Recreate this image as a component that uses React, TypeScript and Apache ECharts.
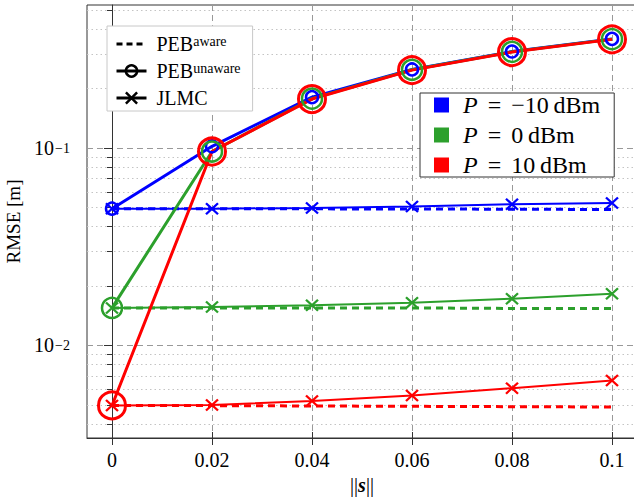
import React, { useEffect, useRef } from 'react';
import * as echarts from 'echarts';

// ---- data ----
const xValues = [0, 0.02, 0.04, 0.06, 0.08, 0.1];
const xTickValues = [0, 0.02, 0.04, 0.06, 0.08, 0.1];
const yMajorTicks = [0.01, 0.1];
const yMinorTicks = [
  0.004, 0.005, 0.006, 0.007, 0.008, 0.009,
  0.02, 0.03, 0.04, 0.05, 0.06, 0.07, 0.08, 0.09,
  0.2, 0.3, 0.4, 0.5,
];

const blueAware = [0.0493, 0.0493, 0.0492, 0.0491, 0.049, 0.0488];
const greenAware = [0.0155, 0.0155, 0.0155, 0.0155, 0.0154, 0.0154];
const redAware = [0.00497, 0.00496, 0.00494, 0.00492, 0.0049, 0.00488];

const blueUnaware = [0.0493, 0.102, 0.181, 0.25, 0.308, 0.357];
const greenUnaware = [0.0155, 0.096, 0.178, 0.249, 0.307, 0.356];
const redUnaware = [0.00497, 0.096, 0.177, 0.248, 0.306, 0.355];

const blueJLMC = [0.0493, 0.0493, 0.0497, 0.0506, 0.0519, 0.0526];
const greenJLMC = [0.0155, 0.01565, 0.016, 0.01644, 0.01725, 0.01828];
const redJLMC = [0.00497, 0.005, 0.00523, 0.00558, 0.00608, 0.00665];

const powerKeys = ['Pm10', 'P0', 'P10'];
const powerLabels = ['−10', '0', '10'];
const methodKeys = ['PEBaware', 'PEBunaware', 'JLMC'];

const colors = ['#0000ff', '#2ca02c', '#ff0000'];
const circleSizes = [12, 20, 27];
const circleBorders = [2.5, 2.5, 3];

const FONT = 'Liberation Serif';
const CROSS = 'path://M0,0L10,10M10,0L0,10';

const zip = (ys: number[]) => xValues.map((x, i) => [x, ys[i]]);

export default function App() {
  const ref = useRef<HTMLDivElement>(null);
  useEffect(() => {
    if (!ref.current) return;
    const chart = echarts.init(ref.current, undefined, { renderer: 'svg' });

    const groups = [
      [blueAware, blueUnaware, blueJLMC],
      [greenAware, greenUnaware, greenJLMC],
      [redAware, redUnaware, redJLMC],
    ];
    const series: any[] = [];
    groups.forEach((g, ci) => {
      const c = colors[ci];
      series.push({
        type: 'line', name: 'aware-' + ci, data: zip(g[0]), symbol: 'none',
        lineStyle: { color: c, width: 3, type: [7, 5] }, silent: true,
      });
      series.push({
        type: 'line', name: 'unaware-' + ci, data: zip(g[1]), symbol: 'circle',
        symbolSize: circleSizes[ci],
        itemStyle: { color: 'rgba(0,0,0,0)', borderColor: c, borderWidth: circleBorders[ci] },
        lineStyle: { color: c, width: 3 }, silent: true,
      });
      series.push({
        type: 'line', name: 'jlmc-' + ci, data: zip(g[2]), symbol: CROSS,
        symbolSize: [12, 11],
        itemStyle: { color: 'rgba(0,0,0,0)', borderColor: c, borderWidth: 2.2 },
        lineStyle: { color: c, width: 2 }, silent: true,
      });
    });
    // legend-only series
    series.push({
      type: 'line', name: methodKeys[0], data: [], symbol: 'circle',
      itemStyle: { color: 'rgba(0,0,0,0)', borderColor: 'rgba(0,0,0,0)', borderWidth: 0 },
      lineStyle: { color: '#000', width: 3, type: [6, 4] },
    });
    series.push({
      type: 'line', name: methodKeys[1], data: [], symbol: 'circle',
      itemStyle: { color: 'rgba(0,0,0,0)', borderColor: '#000', borderWidth: 2.5 },
      lineStyle: { color: '#000', width: 3 },
    });
    series.push({
      type: 'line', name: methodKeys[2], data: [], symbol: CROSS,
      itemStyle: { color: 'rgba(0,0,0,0)', borderColor: '#000', borderWidth: 3 },
      lineStyle: { color: '#000', width: 3 },
    });
    powerKeys.forEach((k, i) => {
      series.push({
        type: 'line', name: k, data: [], symbol: 'none',
        itemStyle: { color: colors[i] }, lineStyle: { color: colors[i] },
      });
    });

    const option: any = {
      animation: false,
      backgroundColor: '#fff',
      grid: {
        left: 87, top: 5, width: 550, height: 433,
        outerBoundsMode: 'none', containLabel: false,
        show: true, borderColor: '#333', borderWidth: 1, backgroundColor: 'transparent',
      },
      xAxis: [
        {
          type: 'value', min: -0.005, max: 0.105,
          axisLine: { show: true, lineStyle: { color: '#333', width: 1 } },
          axisTick: { show: true, customValues: xTickValues, length: 7, lineStyle: { color: '#333' } },
          axisLabel: {
            customValues: xTickValues, margin: 12, color: '#000', fontSize: 20, fontFamily: FONT,
            formatter: (v: number) => String(+v.toFixed(2)),
          },
          splitLine: { show: true, lineStyle: { color: '#999', width: 1, type: [6, 4] } },
          name: '{n|||}{s|s}{n|||}',
          nameLocation: 'middle', nameGap: 33,
          nameTextStyle: {
            color: '#000',
            rich: {
              n: { fontSize: 20, fontFamily: FONT, color: '#000' },
              s: { fontSize: 20, fontFamily: FONT, fontWeight: 'bold', fontStyle: 'italic', color: '#000' },
            },
          },
        },
        {
          type: 'value', min: -0.005, max: 0.105, position: 'bottom',
          axisLine: { show: false },
          axisTick: { show: true, inside: true, customValues: xTickValues, length: 6, lineStyle: { color: '#333' } },
          axisLabel: { show: false },
          splitLine: { show: false },
        },
      ],
      yAxis: [
        {
          type: 'log', logBase: 10, min: 0.0034, max: 0.53,
          axisLine: { show: true, lineStyle: { color: '#333', width: 1 } },
          axisTick: { show: true, customValues: yMajorTicks, length: 8, lineStyle: { color: '#333' } },
          axisLabel: {
            customValues: yMajorTicks, margin: 17,
            formatter: (v: number) => '{b|10}{s|−' + Math.round(-Math.log10(v)) + '}',
            rich: {
              b: { fontSize: 20, fontFamily: FONT, color: '#000', lineHeight: 20, padding: [6, 0, 0, 0], verticalAlign: 'bottom' },
              s: { fontSize: 14, fontFamily: FONT, color: '#000', lineHeight: 14, padding: [3, 0, 0, 1], verticalAlign: 'top' },
            },
          },
          splitLine: { show: true, lineStyle: { color: '#999', width: 1, type: [6, 4] } },
          name: 'RMSE [m]', nameLocation: 'middle', nameGap: 63,
          nameTextStyle: { fontSize: 19, fontFamily: FONT, color: '#000' },
        },
        {
          type: 'log', logBase: 10, min: 0.0034, max: 0.53, position: 'left',
          axisLine: { show: false },
          axisTick: { show: true, customValues: yMinorTicks, length: 5, lineStyle: { color: '#333' } },
          axisLabel: { show: false },
          splitLine: { show: true, lineStyle: { color: '#c4c4c4', width: 1, type: [1.5, 3] } },
        },
      ],
      legend: [
        {
          data: methodKeys.map((k) => ({ name: k })),
          orient: 'vertical', left: 107, top: 26,
          itemWidth: 30, itemHeight: 14, itemGap: 3,
          padding: [4, 12, 3, 8],
          backgroundColor: '#fff', borderColor: '#c8c8c8', borderWidth: 1,
          selectedMode: false,
          itemStyle: { borderWidth: 2.5 },
          lineStyle: { width: 3 },
          formatter: (name: string) => {
            const i = methodKeys.indexOf(name);
            if (i === 0) return '{b|PEB}{s|aware}';
            if (i === 1) return '{b|PEB}{s|unaware}';
            return '{b|JLMC}';
          },
          textStyle: {
            rich: {
              b: { fontSize: 20, fontFamily: FONT, color: '#000', lineHeight: 20, padding: [4, 0, 0, 5], verticalAlign: 'bottom' },
              s: { fontSize: 14, fontFamily: FONT, color: '#000', lineHeight: 14, verticalAlign: 'top' },
            },
          },
        },
        {
          data: powerKeys.map((k) => ({ name: k, icon: 'rect' })),
          orient: 'vertical', left: 420, top: 93,
          itemWidth: 15, itemHeight: 15, itemGap: 6,
          padding: [0, 14, 0, 14],
          backgroundColor: '#fff', borderColor: '#333', borderWidth: 1,
          selectedMode: false,
          formatter: (name: string) => {
            const i = powerKeys.indexOf(name);
            return '{i|P}{e|=}{t|' + powerLabels[i] + '\u2009dBm}';
          },
          textStyle: {
            rich: {
              i: { fontSize: 24, fontFamily: FONT, fontStyle: 'italic', color: '#000', lineHeight: 18, padding: [0, 0, 0, 9] },
              e: { fontSize: 24, fontFamily: FONT, color: '#000', lineHeight: 18, padding: [0, 10, 0, 10] },
              t: { fontSize: 24, fontFamily: FONT, color: '#000', lineHeight: 18 },
            },
          },
        },
      ],
      series,
    };
    chart.setOption(option);
    return () => chart.dispose();
  }, []);
  return (
    <div
      ref={ref}
      style={{ position: 'absolute', left: 0, top: 0, width: 634, height: 499 }}
    />
  );
}
